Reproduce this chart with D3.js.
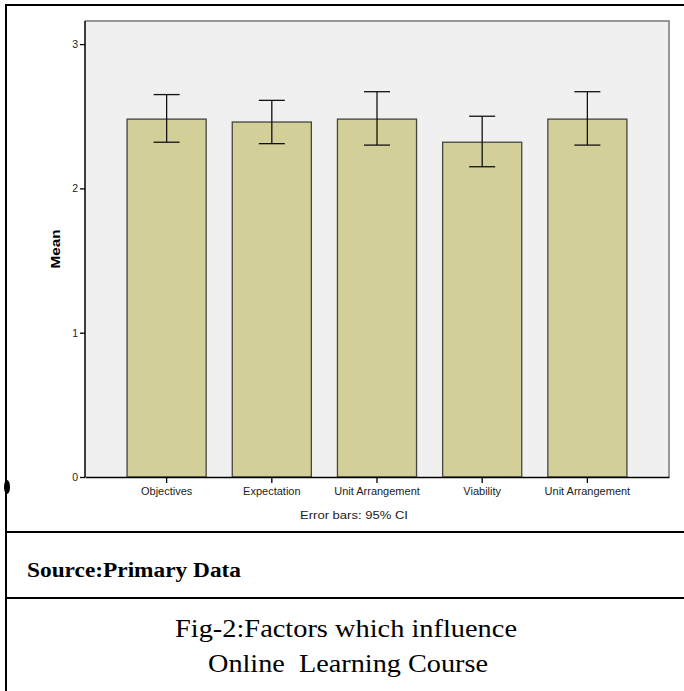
<!DOCTYPE html>
<html><head><meta charset="utf-8">
<script src="https://cdn.jsdelivr.net/npm/d3@7"></script>
<style>html,body{margin:0;padding:0;background:#fff;}svg{display:block;}</style>
</head><body>
<script>
const categories = ["Objectives","Expectation","Unit Arrangement","Viability","Unit Arrangement"];
const means = [2.48, 2.46, 2.48, 2.32, 2.48];
const ciLow = [2.32, 2.31, 2.30, 2.15, 2.30];
const ciHigh = [2.65, 2.61, 2.67, 2.50, 2.67];
const yTicks = [0, 1, 2, 3];

(function () {
const W = 684, H = 691;
const svg = d3.select("body").append("svg").attr("width", W).attr("height", H);
const SANS = "Liberation Sans, Arial, sans-serif";
const SERIF = "Liberation Serif, Times New Roman, serif";
function stretch(sel, k) {
  sel.each(function () {
    const len = this.getComputedTextLength();
    d3.select(this).attr("textLength", len * k).attr("lengthAdjust", "spacingAndGlyphs");
  });
}

// table frame
const frame = svg.append("g").attr("stroke", "#000").attr("stroke-width", 2);
frame.append("line").attr("x1", 6).attr("x2", 684).attr("y1", 5).attr("y2", 5);
frame.append("line").attr("x1", 6).attr("x2", 6).attr("y1", 4).attr("y2", 691);
frame.append("line").attr("x1", 6).attr("x2", 684).attr("y1", 532).attr("y2", 532);
frame.append("line").attr("x1", 6).attr("x2", 684).attr("y1", 598).attr("y2", 598);
svg.append("ellipse").attr("cx", 7).attr("cy", 487).attr("rx", 3).attr("ry", 7).attr("fill", "#000");

const pL = 85, pR = 669, pT = 21, pB = 477;
const x = d3.scaleBand().domain(d3.range(categories.length)).range([pL, pR])
  .paddingInner(0.248).paddingOuter(0.4);
const y = d3.scaleLinear().domain([0, 3.16]).range([pB, pT]);

svg.append("rect").attr("x", pL).attr("y", pT).attr("width", pR - pL).attr("height", pB - pT)
  .attr("fill", "#f0f0f0");
svg.append("path").attr("d", `M${pL},${pT}H${pR}V${pB}`).attr("fill", "none")
  .attr("stroke", "#777").attr("stroke-width", 1.5);

const idx = d3.range(categories.length);
svg.append("g").selectAll("rect").data(idx).join("rect")
  .attr("x", i => x(i)).attr("width", x.bandwidth())
  .attr("y", i => y(means[i])).attr("height", i => y(0) - y(means[i]))
  .attr("fill", "#d3cf98").attr("stroke", "#46463c").attr("stroke-width", 1.3);

const eb = svg.append("g").attr("stroke", "#111").attr("stroke-width", 1.3);
idx.forEach(i => {
  const cx = x(i) + x.bandwidth() / 2;
  eb.append("line").attr("x1", cx).attr("x2", cx).attr("y1", y(ciLow[i])).attr("y2", y(ciHigh[i]));
  eb.append("line").attr("x1", cx - 13).attr("x2", cx + 13).attr("y1", y(ciLow[i])).attr("y2", y(ciLow[i]));
  eb.append("line").attr("x1", cx - 13).attr("x2", cx + 13).attr("y1", y(ciHigh[i])).attr("y2", y(ciHigh[i]));
});

const yAxis = svg.append("g").attr("transform", `translate(${pL},0)`)
  .call(d3.axisLeft(y).tickValues(yTicks).tickFormat(d3.format("d")).tickSize(5).tickPadding(2));
yAxis.select(".domain").attr("d", `M0,${pT}V${pB}`).attr("stroke", "#000").attr("stroke-width", 1.5);
yAxis.selectAll(".tick line").attr("stroke-width", 1.3);
yAxis.selectAll("text").attr("font-family", SANS).attr("font-size", 10.5).attr("fill", "#222");

const xAxis = svg.append("g").attr("transform", `translate(0,${pB})`)
  .call(d3.axisBottom(x).tickFormat(i => categories[i]).tickSize(6).tickSizeOuter(0).tickPadding(5));
xAxis.select(".domain").attr("stroke", "#000").attr("stroke-width", 1.5);
xAxis.selectAll(".tick line").attr("stroke-width", 1.3);
xAxis.selectAll("text").attr("font-family", SANS).attr("font-size", 10).attr("fill", "#222");
stretch(xAxis.selectAll("text"), 1.1);

svg.append("text").attr("transform", "translate(60,249) rotate(-90)").attr("text-anchor", "middle")
  .attr("font-family", SANS).attr("font-size", 12.5).attr("font-weight", "bold")
  .attr("textLength", 39).attr("lengthAdjust", "spacingAndGlyphs")
  .text("Mean");
svg.append("text").attr("x", 354).attr("y", 519).attr("text-anchor", "middle")
  .attr("font-family", SANS).attr("font-size", 11.5).attr("fill", "#222")
  .attr("textLength", 108).attr("lengthAdjust", "spacingAndGlyphs")
  .text("Error bars: 95% CI");

svg.append("text").attr("x", 27).attr("y", 577)
  .attr("font-family", SERIF).attr("font-size", 20).attr("font-weight", "bold")
  .attr("textLength", 214).attr("lengthAdjust", "spacingAndGlyphs")
  .text("Source:Primary Data");
svg.append("text").attr("x", 346).attr("y", 637).attr("text-anchor", "middle")
  .attr("font-family", SERIF).attr("font-size", 25)
  .attr("textLength", 342).attr("lengthAdjust", "spacingAndGlyphs")
  .text("Fig-2:Factors which influence");
svg.append("text").attr("x", 348).attr("y", 672).attr("text-anchor", "middle")
  .attr("font-family", SERIF).attr("font-size", 25)
  .attr("textLength", 280).attr("lengthAdjust", "spacingAndGlyphs")
  .style("white-space", "pre")
  .text("Online  Learning Course");
})();
</script>
</body></html>
